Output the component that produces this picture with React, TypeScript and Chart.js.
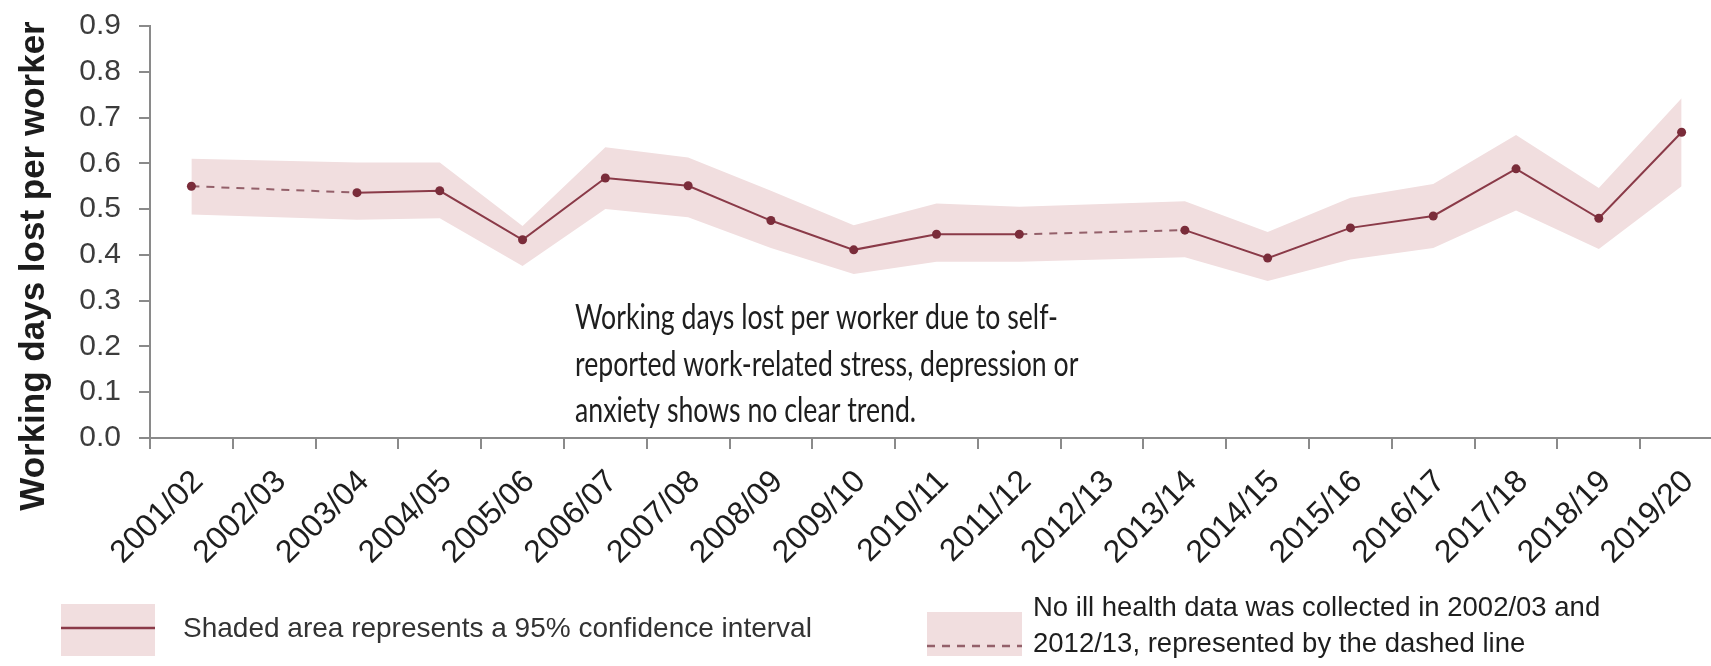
import React, { useEffect, useRef } from 'react';
import { Chart, registerables } from 'chart.js';

Chart.register(...registerables);

const categories = [
  '2001/02', '2002/03', '2003/04', '2004/05', '2005/06', '2006/07', '2007/08',
  '2008/09', '2009/10', '2010/11', '2011/12', '2012/13', '2013/14', '2014/15',
  '2015/16', '2016/17', '2017/18', '2018/19', '2019/20',
];

const workingDaysLost = [
  0.55, null, 0.536, 0.54, 0.433, 0.568, 0.551, 0.475, 0.411, 0.445, 0.445,
  null, 0.454, 0.393, 0.459, 0.485, 0.588, 0.48, 0.668,
];

const ciUpper = [
  0.61, null, 0.602, 0.602, 0.463, 0.635, 0.613, 0.54, 0.465, 0.512, 0.505,
  null, 0.517, 0.45, 0.525, 0.555, 0.662, 0.546, 0.742,
];

const ciLower = [
  0.488, null, 0.477, 0.48, 0.376, 0.5, 0.482, 0.415, 0.358, 0.385, 0.385,
  null, 0.395, 0.343, 0.39, 0.415, 0.497, 0.413, 0.55,
];

const yMin = 0;
const yMax = 0.9;
const yStep = 0.1;

const yAxisTitle = 'Working days lost per worker';
const annotationLines = [
  'Working days lost per worker due to self-',
  'reported work-related stress, depression or',
  'anxiety shows no clear trend.',
];
const legendSolidText = 'Shaded area represents a 95% confidence interval';
const legendDashedLines = [
  'No ill health data was collected in 2002/03 and',
  '2012/13, represented by the dashed line',
];

const BAND = 'rgb(241,222,223)';
const LINE = '#8a3a48';
const POINT = '#7a2c3a';
const DASH = '#94606a';
const AXIS = '#8a8a8a';
const SANS = '"Liberation Sans", Arial, sans-serif';

const overlayPlugin = {
  id: 'overlay',
  afterDraw(chart: any) {
    const ctx = chart.ctx as CanvasRenderingContext2D;

    // y-axis title
    ctx.save();
    ctx.translate(44, 266);
    ctx.rotate(-Math.PI / 2);
    ctx.font = `bold 35px ${SANS}`;
    ctx.fillStyle = '#1c1c1c';
    ctx.textAlign = 'center';
    ctx.textBaseline = 'alphabetic';
    ctx.fillText(yAxisTitle, 0, 0);
    ctx.restore();

    // annotation
    ctx.save();
    ctx.font = '35px Lato, "Open Sans", sans-serif';
    ctx.fillStyle = '#1e1e1e';
    ctx.textBaseline = 'middle';
    ctx.textAlign = 'left';
    const w0 = ctx.measureText(annotationLines[0]).width;
    const sx = 483 / w0;
    annotationLines.forEach((t, i) => {
      ctx.save();
      ctx.translate(575, 318 + i * 46.5);
      ctx.scale(sx, 1);
      ctx.fillText(t, 0, 0);
      ctx.restore();
    });
    ctx.restore();

    // legend 1
    ctx.save();
    ctx.fillStyle = BAND;
    ctx.fillRect(61, 604, 94, 52);
    ctx.strokeStyle = LINE;
    ctx.lineWidth = 2.5;
    ctx.beginPath();
    ctx.moveTo(61, 628);
    ctx.lineTo(155, 628);
    ctx.stroke();
    ctx.font = `28px ${SANS}`;
    ctx.fillStyle = '#333';
    ctx.textBaseline = 'middle';
    ctx.fillText(legendSolidText, 183, 629);

    // legend 2
    ctx.fillStyle = BAND;
    ctx.fillRect(927, 612, 95, 44);
    ctx.strokeStyle = DASH;
    ctx.lineWidth = 2.5;
    ctx.setLineDash([8, 7]);
    ctx.beginPath();
    ctx.moveTo(927, 646);
    ctx.lineTo(1022, 646);
    ctx.stroke();
    ctx.setLineDash([]);
    ctx.font = `27.5px ${SANS}`;
    ctx.fillStyle = '#1e1e1e';
    legendDashedLines.forEach((t, i) => {
      ctx.fillText(t, 1033, 608 + i * 36.5);
    });
    ctx.restore();
  },
};

export default function App() {
  const canvasRef = useRef<HTMLCanvasElement | null>(null);

  useEffect(() => {
    const canvas = canvasRef.current;
    if (!canvas) return;
    const gap = (ctx: any, v: any) => (ctx.p0.skip || ctx.p1.skip ? v : undefined);
    const chart = new Chart(canvas, {
      type: 'line',
      data: {
        labels: categories,
        datasets: [
          {
            label: 'Working days lost',
            data: workingDaysLost,
            borderColor: LINE,
            borderWidth: 2,
            pointRadius: 4.5,
            pointBackgroundColor: POINT,
            pointBorderColor: POINT,
            pointBorderWidth: 0,
            spanGaps: true,
            fill: false,
            tension: 0,
            segment: {
              borderDash: (ctx: any) => gap(ctx, [8, 7]),
              borderColor: (ctx: any) => gap(ctx, DASH),
            },
          },
          {
            label: 'Upper',
            data: ciUpper,
            borderWidth: 0,
            borderColor: 'rgba(0,0,0,0)',
            pointRadius: 0,
            spanGaps: true,
            fill: '+1',
            backgroundColor: BAND,
            tension: 0,
          },
          {
            label: 'Lower',
            data: ciLower,
            borderWidth: 0,
            borderColor: 'rgba(0,0,0,0)',
            pointRadius: 0,
            spanGaps: true,
            fill: false,
            tension: 0,
          },
        ],
      },
      options: {
        responsive: false,
        animation: false,
        devicePixelRatio: 1,
        layout: { padding: { left: 0, right: 17, top: 26, bottom: 0 } },
        plugins: {
          legend: { display: false },
          tooltip: { enabled: false },
          title: { display: false },
        },
        scales: {
          x: {
            type: 'category',
            offset: true,
            grid: {
              offset: true,
              drawOnChartArea: false,
              drawTicks: true,
              tickLength: 11,
              color: AXIS,
              lineWidth: 2,
            },
            border: { color: AXIS, width: 2 },
            ticks: {
              autoSkip: false,
              maxRotation: 45,
              minRotation: 45,
              padding: 14,
              labelOffset: 7,
              color: '#1e1e1e',
              font: { family: SANS, size: 32 },
            },
            afterFit: (scale: any) => {
              scale.height = 228;
            },
          },
          y: {
            min: yMin,
            max: yMax,
            grid: {
              drawOnChartArea: false,
              drawTicks: true,
              tickLength: 11,
              color: AXIS,
              lineWidth: 2,
            },
            border: { color: AXIS, width: 2 },
            ticks: {
              stepSize: yStep,
              padding: 18,
              color: '#3c3c3c',
              font: { family: SANS, size: 30 },
              callback: (v: any) => Number(v).toFixed(1),
            },
            afterFit: (scale: any) => {
              scale.width = 150;
              scale.paddingTop = 0;
              scale.paddingBottom = 0;
            },
          },
        },
      },
      plugins: [overlayPlugin],
    });
    return () => chart.destroy();
  }, []);

  return (
    <div
      style={{
        position: 'fixed',
        left: 0,
        top: 0,
        width: 1711,
        height: 666,
        overflow: 'hidden',
        background: '#fff',
      }}
    >
      <canvas ref={canvasRef} width={1740} height={666} style={{ display: 'block' }} />
    </div>
  );
}
